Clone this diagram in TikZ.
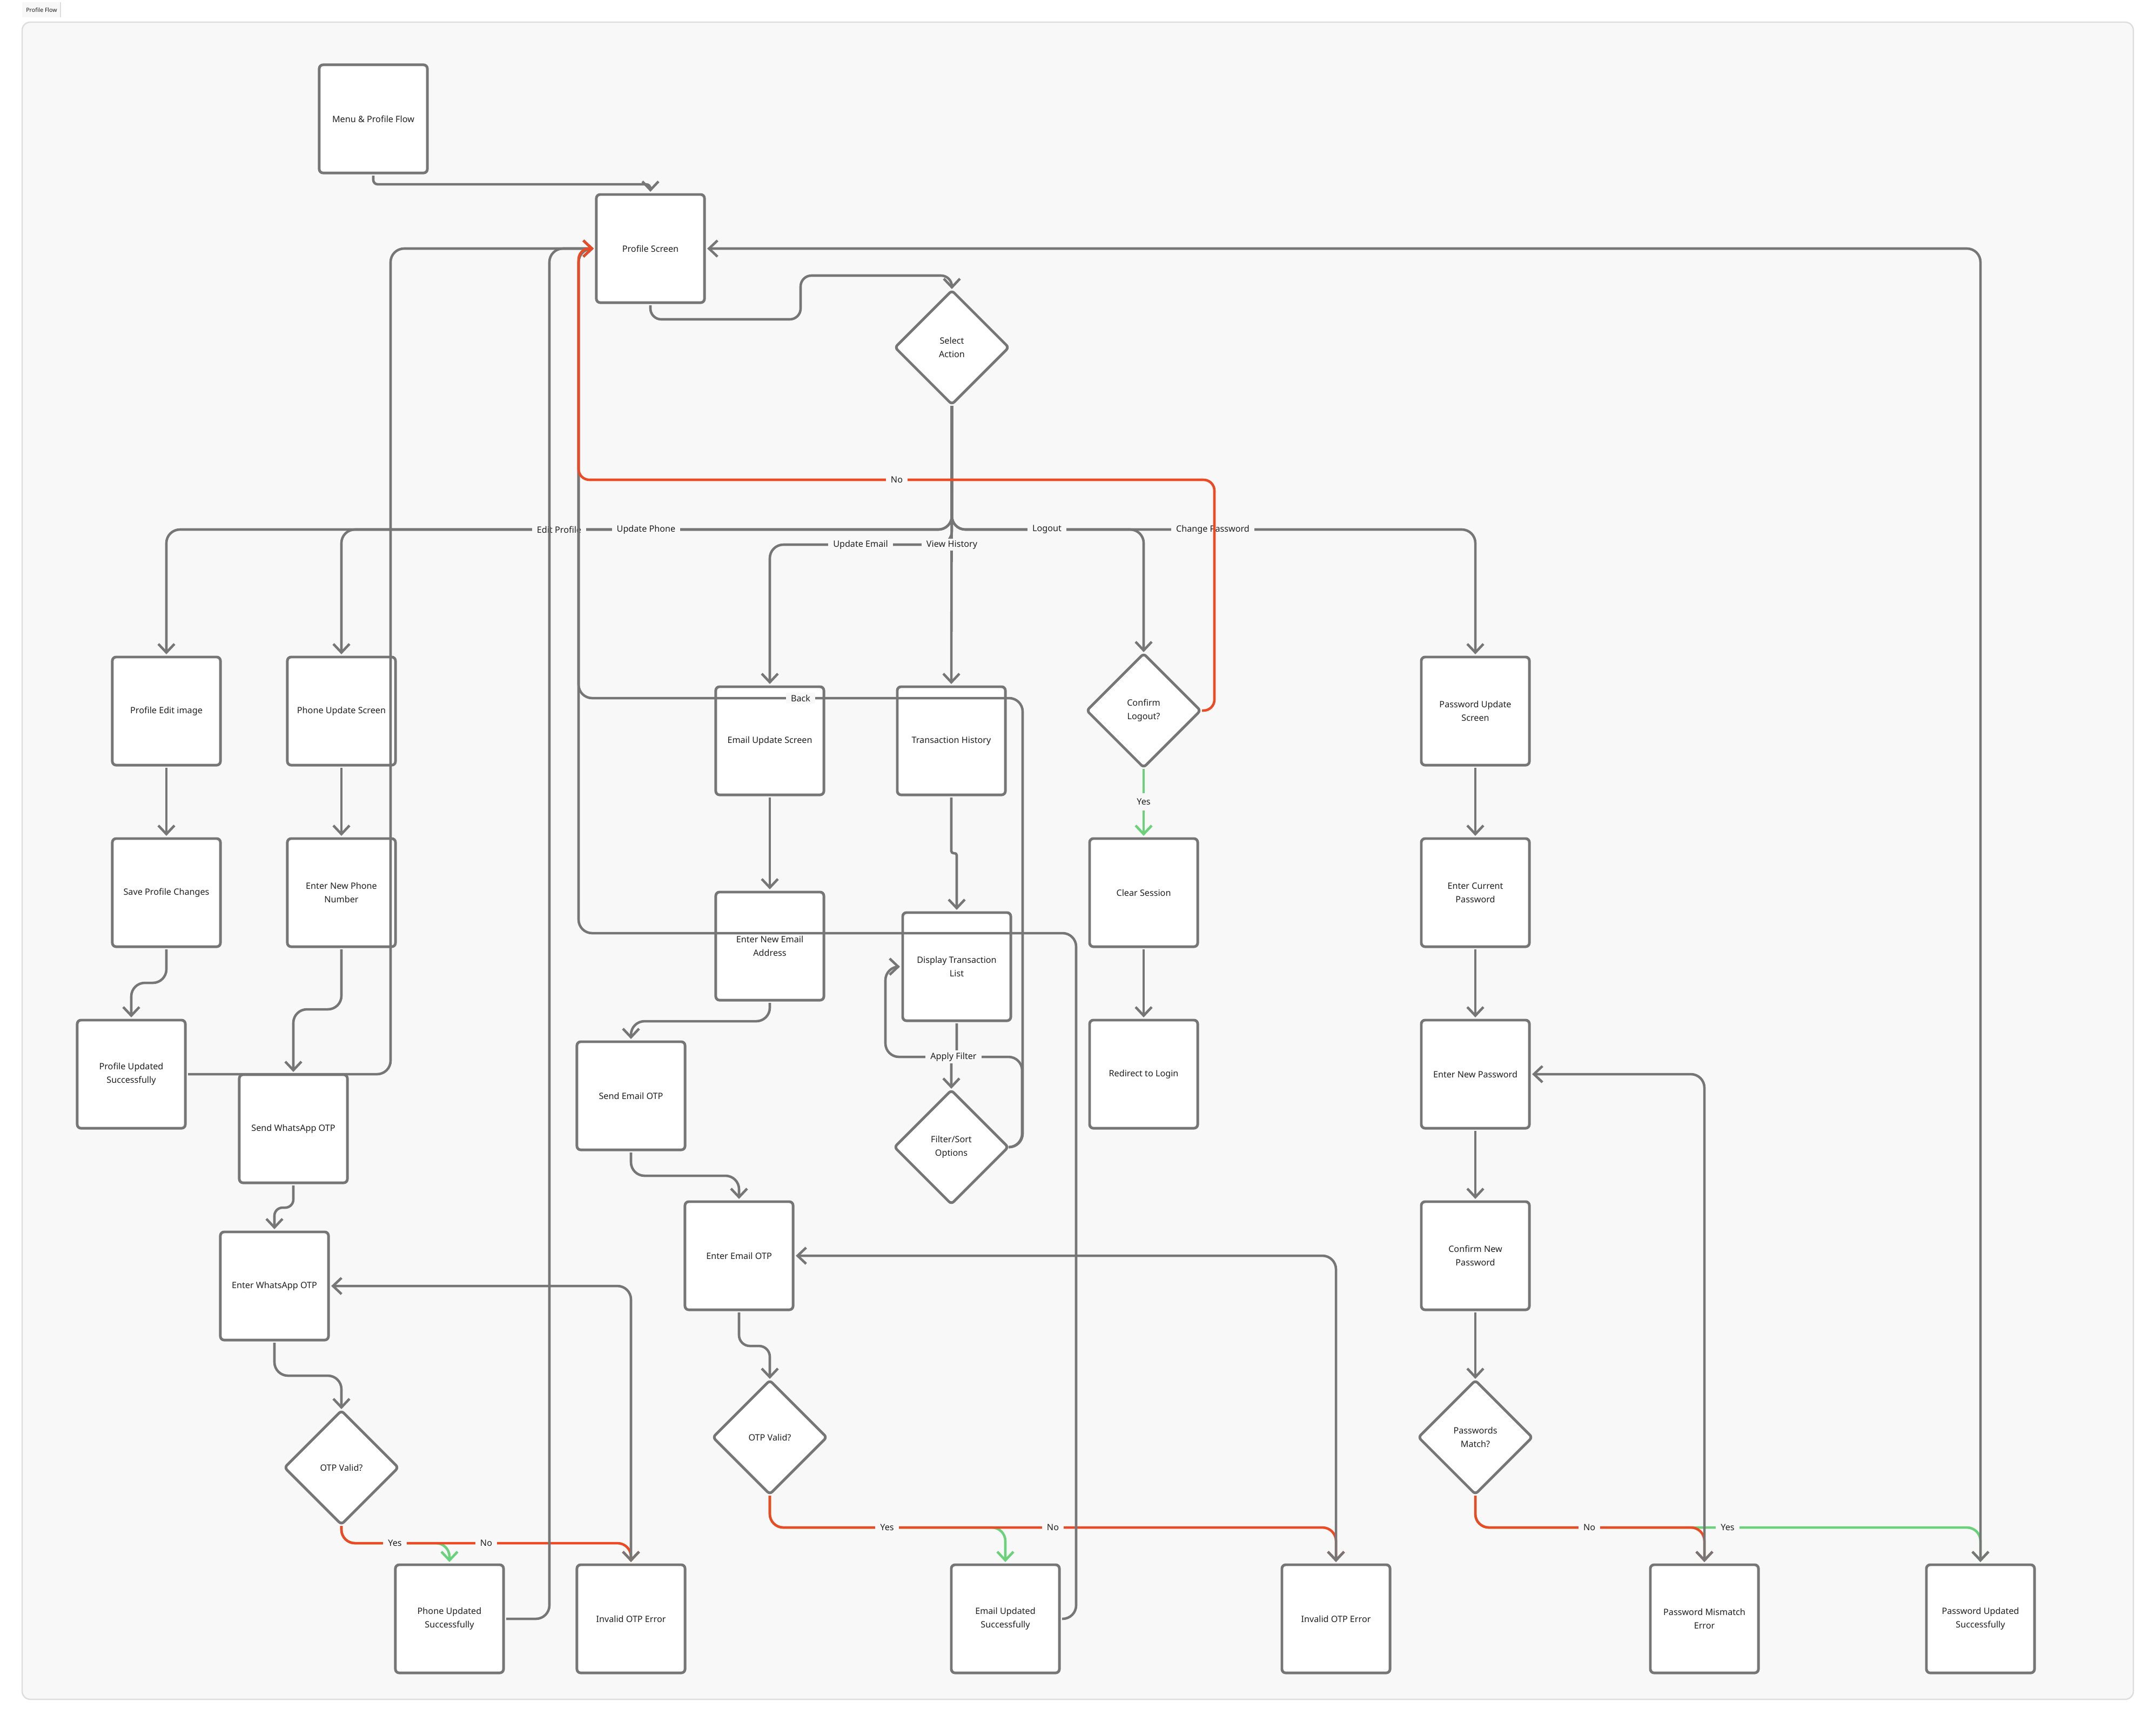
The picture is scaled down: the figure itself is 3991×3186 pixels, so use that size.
\documentclass[tikz,border=0pt]{standalone}
\usepackage{fontspec}
\setmainfont{Noto Sans}
\usetikzlibrary{arrows.meta,shapes.geometric}
\definecolor{lg}{HTML}{767676}
\definecolor{rd}{HTML}{EC4A25}
\definecolor{gn}{HTML}{6BD27B}
\definecolor{canvas}{HTML}{F8F8F8}
\definecolor{framec}{HTML}{DDDDDD}
\definecolor{txt}{HTML}{1F1F1F}
\begin{document}
\begin{tikzpicture}[x=0.01cm,y=-0.01cm,
  nfont/.style={font=\fontsize{4.6}{7}\selectfont},
  box/.style={draw=lg, fill=white, line width=1.4pt, rounded corners=0.07cm,
    minimum width=2cm, minimum height=2cm, inner sep=0pt, outer sep=0.05cm,
    align=center, nfont, text=txt},
  dia/.style={diamond, draw=lg, fill=white, line width=1.4pt, rounded corners=0.06cm,
    minimum width=2.12cm, minimum height=2.12cm, inner sep=0pt, outer sep=0.02cm,
    align=center, nfont, text=txt},
  tipb/.tip={Straight Barb[length=4.5pt,width=8.5pt]},
  conn/.style={draw=lg, line width=1.3pt, rounded corners=0.25cm, -tipb},
  bconn/.style={conn, tipb-tipb},
  gconn/.style={conn, draw=gn},
  rconn/.style={conn, draw=rd},
  lbl/.style={fill=canvas, inner xsep=2.6pt, inner ysep=1pt, nfont, text=txt},
]
\useasboundingbox (0,0) rectangle (3991,3186);
% title tab and frame
\fill[white] (0,0) rectangle (3991,3186);
\fill[canvas] (41,4) rectangle (112,32);
\draw[framec, line width=0.6pt] (112,4) -- (112,32);
\node[font=\fontsize{3}{4}\selectfont, text=txt] (title) at (77,18) {Profile Flow};
\draw[draw=framec, fill=canvas, line width=0.7pt, rounded corners=0.15cm] (41,41) rectangle (3949,3145);

% nodes
\node[box] (menu) at (691,220) {Menu \& Profile Flow};
\node[box] (prof) at (1204,460) {Profile Screen};
\node[dia] (sel) at (1762,643) {Select\\Action};
\node[box] (pedit) at (308,1316) {Profile Edit image};
\node[box] (pupd) at (632,1316) {Phone Update Screen};
\node[box] (eupd) at (1425,1371) {Email Update Screen};
\node[box] (thist) at (1761,1371) {Transaction History};
\node[dia] (clog) at (2117,1315) {Confirm\\Logout?};
\node[box] (pwupd) at (2731,1316) {Password Update\\Screen};
\node[box] (save) at (308,1652) {Save Profile Changes};
\node[box] (newph) at (632,1652) {Enter New Phone\\Number};
\node[box] (newem) at (1425,1751) {Enter New Email\\Address};
\node[box] (disp) at (1771,1789) {Display Transaction\\List};
\node[box] (clr) at (2117,1652) {Clear Session};
\node[box] (curpw) at (2731,1652) {Enter Current\\Password};
\node[box] (pupdok) at (243,1988) {Profile Updated\\Successfully};
\node[box] (sendwa) at (543,2089) {Send WhatsApp OTP};
\node[box] (sendem) at (1168,2028) {Send Email OTP};
\node[dia] (filt) at (1761,2123) {Filter/Sort\\Options};
\node[box] (redir) at (2117,1988) {Redirect to Login};
\node[box] (newpw) at (2731,1988) {Enter New Password};
\node[box] (entwa) at (508,2380) {Enter WhatsApp OTP};
\node[box] (entem) at (1368,2324) {Enter Email OTP};
\node[box] (confpw) at (2731,2324) {Confirm New\\Password};
\node[dia] (otpa) at (632,2716) {OTP Valid?};
\node[dia] (otpb) at (1425,2660) {OTP Valid?};
\node[dia] (pwm) at (2731,2660) {Passwords\\Match?};
\node[box] (phok) at (832,2996) {Phone Updated\\Successfully};
\node[box] (inva) at (1168,2996) {Invalid OTP Error};
\node[box] (emok) at (1861,2996) {Email Updated\\Successfully};
\node[box] (invb) at (2473,2996) {Invalid OTP Error};
\node[box] (pwmis) at (3155,2996) {Password Mismatch\\Error};
\node[box] (pwok) at (3666,2996) {Password Updated\\Successfully};

% forward connectors
\draw[conn, rounded corners=0.08cm] (menu.south) -- ++(0,16) -| (prof.north);
\draw[conn, rounded corners=0.2cm] (prof.south) |- (1482,591) -- (1482,510) -| (sel.north);
\draw[conn] (sel.south) -- (1762,980) -| (pedit.north);
\draw[conn] (sel.south) -- (1762,980) -| (pupd.north);
\draw[conn] (sel.south) -- (1762,980) -| (clog.north);
\draw[conn] (sel.south) -- (1762,980) -| (pwupd.north);
\draw[conn] (sel.south) -- (1762,1008) -| (eupd.north);
\draw[conn] (sel.south) -- (thist.north);

\draw[conn] (pedit) -- (save);
\draw[conn] (save.south) -- (308,1819) -| (pupdok.north);
\draw[conn] (pupd) -- (newph);
\draw[conn] (newph.south) -- (632,1868) -| (sendwa.north);
\draw[conn, rounded corners=0.15cm] (sendwa.south) -- (543,2235) -| (entwa.north);
\draw[conn] (entwa.south) -- (508,2546) -| (otpa.north);
\draw[gconn] (otpa.south) -- (632,2856) -| (phok.north);
\draw[rconn] (otpa.south) -- (632,2856) -| (inva.north);
\draw[bconn] (inva.north) |- (entwa.east);

\draw[conn] (eupd) -- (newem);
\draw[conn] (newem.south) -- (1425,1890) -| (sendem.north);
\draw[conn] (sendem.south) -- (1168,2176) -| (entem.north);
\draw[conn, rounded corners=0.2cm] (entem.south) -- (1368,2491) -| (otpb.north);
\draw[gconn] (otpb.south) -- (1425,2827) -| (emok.north);
\draw[rconn] (otpb.south) -- (1425,2827) -| (invb.north);
\draw[bconn] (invb.north) |- (entem.east);

\draw[conn, rounded corners=0.04cm] (thist.south) -- (1761,1579) -| (disp.north);
\draw[conn, rounded corners=0.04cm] (disp.south) -- (1771,1956) -| (filt.north);
\draw[conn] (filt.east) -- (1892,2123) -- (1892,1956) -- (1639,1956) -- (1639,1789) -- (disp.west);

\draw[gconn] (clog.south) -- (clr.north);
\draw[conn] (clr) -- (redir);

\draw[conn] (pwupd) -- (curpw);
\draw[conn] (curpw) -- (newpw);
\draw[conn] (newpw) -- (confpw);
\draw[conn] (confpw) -- (pwm);
\draw[gconn] (pwm.south) -- (2731,2827) -| (pwok.north);
\draw[rconn] (pwm.south) -- (2731,2827) -| (pwmis.north);
\draw[bconn] (pwmis.north) |- (newpw.east);

% labels
\node[lbl] (lep) at (1035,980) {Edit Profile};
\node[lbl] (lup) at (1196,980) {Update Phone};
\node[lbl] (llo) at (1938,980) {Logout};
\node[lbl] (lcp) at (2245,980) {Change Password};
\node[lbl] (lue) at (1593,1008) {Update Email};
\node[lbl] (lvh) at (1762,1008) {View History};
\node[lbl, inner ysep=3pt] (lyl) at (2117,1484) {Yes};
\node[lbl] (laf) at (1765,1956) {Apply Filter};
\node[lbl] (lya) at (731,2856) {Yes};
\node[lbl] (lna) at (900,2856) {No};
\node[lbl] (lyb) at (1642,2827) {Yes};
\node[lbl] (lnb) at (1949,2827) {No};
\node[lbl] (lnc) at (2942,2827) {No};
\node[lbl] (lyc) at (3198,2827) {Yes};

% return connectors
\draw[bconn] (pwok.north) |- (prof.east);
\draw[conn] (pupdok.east) -| (723,460) -- (prof.west);
\draw[conn] (phok.east) -| (1017,460) -- (prof.west);
\draw[conn] (emok.east) -| (1992,1727) -- (1071,1727) -- (1071,460) -- (prof.west);
\draw[conn] (filt.east) -- (1893,2123) -- (1893,1292) -- (1071,1292) -- (1071,460) -- (prof.west);
\draw[rconn, rounded corners=0.2cm] (clog.east) -- (2248,1315) -- (2248,888) -- (1071,888) -- (1071,460) -- (prof.west);
\node[lbl] (lbk) at (1482,1292) {Back};
\node[lbl] (lno) at (1660,888) {No};
\end{tikzpicture}
\end{document}
